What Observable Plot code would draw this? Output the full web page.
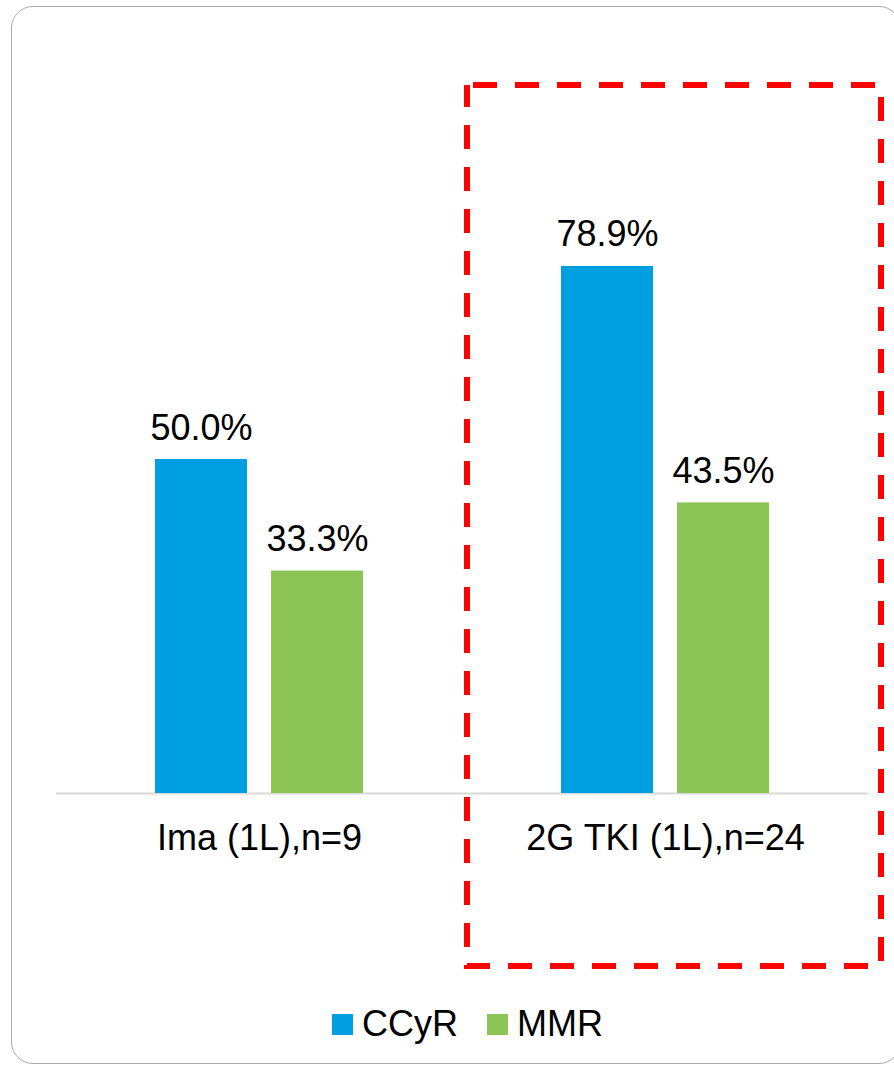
<!DOCTYPE html>
<html>
<head>
<meta charset="utf-8">
<script src="https://cdn.jsdelivr.net/npm/d3@7"></script>
<script src="https://cdn.jsdelivr.net/npm/@observablehq/plot@0.6"></script>
<style>
  html, body { margin: 0; padding: 0; background: #fff; overflow: hidden; }
  body { width: 894px; height: 1066px; position: relative; font-family: "Liberation Sans", Arial, sans-serif; }
  #panel { position: absolute; left: 11px; top: 6px; width: 890px; height: 1058px;
           border: 1.5px solid #ababab; border-radius: 22px; box-sizing: border-box; }
  #chart { position: absolute; left: 0; top: 0; }
  #chart svg { overflow: visible; }
  #legend { position: absolute; left: 332px; top: 1006px; height: 36px; display: flex; align-items: center;
            font-size: 36px; color: #000; line-height: 36px; }
  .item { display: flex; align-items: center; margin-right: 29px; }
  .sw { width: 21px; height: 21px; margin-right: 9px; }
</style>
</head>
<body>
<div id="panel"></div>
<div id="chart"></div>
<div id="legend"></div>
<script>
const groups = ["Ima (1L),n=9", "2G TKI (1L),n=24"];
const series = ["CCyR", "MMR"];
const ccyrValues = [50.0, 78.9];
const mmrValues = [33.3, 43.5];
const seriesColors = ["#009fdf", "#8cc556"];
const highlightGroup = "2G TKI (1L),n=24";

const rows = [];
groups.forEach((g, i) => {
  rows.push({group: g, series: "CCyR", value: ccyrValues[i]});
  rows.push({group: g, series: "MMR", value: mmrValues[i]});
});

const chart = Plot.plot({
  width: 894,
  height: 975,
  marginLeft: 56,
  marginRight: 26,
  marginTop: 125,
  marginBottom: 182,
  style: {fontFamily: "'Liberation Sans', Arial, sans-serif", fontSize: "36px", color: "#000", background: "transparent"},
  fx: {domain: groups, padding: 0, label: null},
  x: {domain: series, paddingInner: 0.207, paddingOuter: 0.853, axis: null},
  y: {domain: [0, 100], axis: null},
  color: {domain: series, range: seriesColors},
  marks: [
    Plot.ruleY([0], {stroke: "#d9d9d9", strokeWidth: 2}),
    Plot.barY(rows, {fx: "group", x: "series", y: "value", fill: "series"}),
    Plot.text(rows, {fx: "group", x: "series", y: "value", text: d => d.value.toFixed(1) + "%",
      lineAnchor: "bottom", dy: -20, fontSize: 36, fill: "#000"}),
    Plot.axisFx({anchor: "bottom", tickSize: 0, tickPadding: 31, fontSize: 36, fill: "#000", label: null}),
    Plot.rect([{group: highlightGroup}], {fx: "group", stroke: "#ff0000", fill: "none", strokeWidth: 6,
      strokeDasharray: "24,18", strokeDashoffset: 36,
      insetLeft: 5, insetRight: -13, insetTop: -40, insetBottom: -173})
  ]
});
document.getElementById("chart").appendChild(chart);

const legend = document.getElementById("legend");
series.forEach((s, i) => {
  const item = document.createElement("div");
  item.className = "item";
  const sw = document.createElement("div");
  sw.className = "sw";
  sw.style.background = seriesColors[i];
  const label = document.createElement("span");
  label.textContent = s;
  item.appendChild(sw);
  item.appendChild(label);
  legend.appendChild(item);
});
</script>
</body>
</html>
